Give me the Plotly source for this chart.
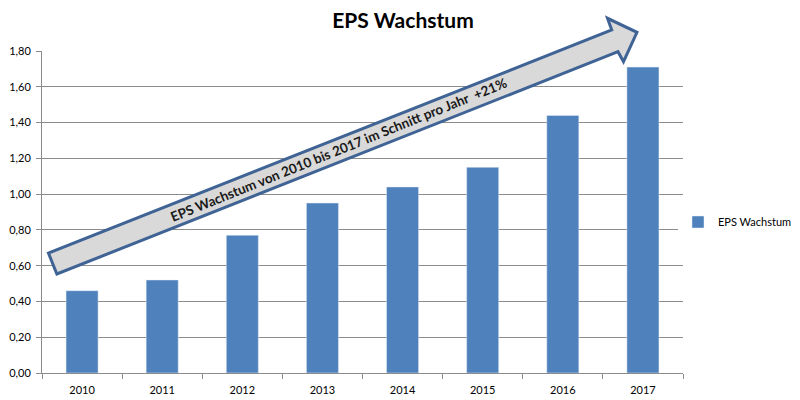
import plotly.graph_objects as go

years = ["2010", "2011", "2012", "2013", "2014", "2015", "2016", "2017"]
eps = [0.46, 0.52, 0.77, 0.95, 1.04, 1.15, 1.44, 1.71]
series_name = "EPS Wachstum"
title_text = "EPS Wachstum"
arrow_text = "EPS Wachstum von 2010 bis 2017 im Schnitt pro Jahr  +21%"

W, H = 800, 400
OFF = 8  # page body margin offset
L, R, T, B = 42 - OFF, 683 - OFF, 51 - OFF, 373 - OFF

def px(x):
    return (x - OFF - L) / (R - L)

def py(y):
    return (B - (y - OFF)) / (B - T)

arrow_pts = [(48.4, 253), (56.9, 274), (618, 51.7), (623.5, 61.7),
             (637, 32.3), (607.5, 18.3), (611.7, 30)]
path = "M " + " L ".join(f"{px(x):.4f},{py(y):.4f}" for x, y in arrow_pts) + " Z"

fig = go.Figure()
fig.add_trace(go.Bar(x=years, y=eps, name=series_name, marker_color="#4F81BD",
                     showlegend=True))

fig.update_layout(
    width=W, height=H,
    margin=dict(l=L, r=W - R, t=T, b=H - B, autoexpand=False),
    paper_bgcolor="white", plot_bgcolor="white",
    separators=",.",
    bargap=0.6,
    font=dict(family="Lato, Open Sans, sans-serif", size=11, color="#000000"),
    title=dict(text="<b>" + title_text + "</b>", x=(403 - OFF) / W, xanchor="center",
               xref="container", yref="container",
               y=1 - (21 - OFF) / H, yanchor="middle",
               font=dict(family="Lato, sans-serif", size=21, color="#000000")),
    legend=dict(xref="container", yref="container", x=(678 - OFF) / W,
                y=1 - (222 - OFF) / H,
                xanchor="left", yanchor="middle",
                font=dict(size=11, color="#000000"), itemwidth=30),
    shapes=[dict(type="path", xref="paper", yref="paper", path=path,
                 fillcolor="#D9D9D9", line=dict(color="#3F6395", width=3),
                 layer="above")],
    annotations=[dict(text="<b>" + arrow_text + "</b>", xref="paper", yref="paper",
                      x=px(338), y=py(150), xanchor="center", yanchor="middle",
                      showarrow=False, textangle=-22,
                      font=dict(family="Lato, sans-serif", size=13.5, color="#1a1a1a"))],
)
fig.update_yaxes(range=[0, 1.8], dtick=0.2, tickformat=".2f", automargin=False,
                 showgrid=True, gridcolor="#8C8C8C", gridwidth=1,
                 showline=True, linecolor="#8C8C8C", linewidth=1,
                 ticks="outside", ticklen=5, tickcolor="#8C8C8C",
                 ticklabelstandoff=3,
                 zeroline=False, tickfont=dict(size=11))
fig.update_xaxes(showline=True, linecolor="#8C8C8C", linewidth=1, automargin=False,
                 ticks="outside", ticklen=5, tickcolor="#8C8C8C",
                 ticklabelstandoff=7,
                 tickson="boundaries", showgrid=False, tickfont=dict(size=11))

fig.write_html("out.html")
